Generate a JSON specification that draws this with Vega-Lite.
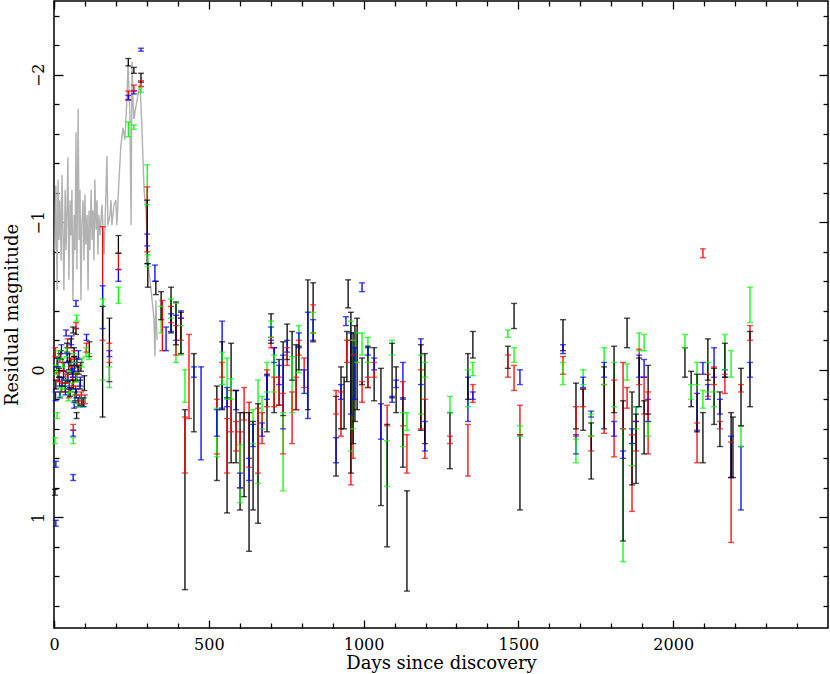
{
"$schema":"https://vega.github.io/schema/vega-lite/v6.json",
"autosize":{"type":"none"},
"width":774,"height":627,
"padding":{"left":54,"top":1,"right":2,"bottom":46},
"background":"white",
"config":{"view":{"stroke":"#000","strokeWidth":1.5},
"axis":{"labelFont":"DejaVu Serif","labelFontSize":16,"labelColor":"#000","titleFont":"DejaVu Serif","titleFontSize":18,"titleFontWeight":"normal","titleColor":"#000","tickColor":"#000","tickWidth":1.3,"grid":false,"domain":false,"labelFlush":false,"labelOverlap":false}},
"datasets":{
"gray":[
{"d":3,"m":-0.81},{"d":6,"m":-1.25},{"d":10,"m":-0.54},{"d":13,"m":-1.29},{"d":16,"m":-0.88},{"d":19,"m":-1.15},{"d":23,"m":-0.74},{"d":26,"m":-1.32},{"d":29,"m":-0.95},{"d":32,"m":-0.54},{"d":36,"m":-1.22},{"d":39,"m":-0.81},{"d":42,"m":-1.08},{"d":45,"m":-1.44},{"d":48,"m":-0.61},{"d":52,"m":-1.15},{"d":55,"m":-0.91},{"d":58,"m":-1.22},{"d":61,"m":-0.47},{"d":65,"m":-1.05},{"d":68,"m":-0.81},{"d":71,"m":-1.61},{"d":74,"m":-0.68},{"d":78,"m":-1.77},{"d":81,"m":-0.88},{"d":84,"m":-1.22},{"d":87,"m":-0.47},{"d":90,"m":-0.98},{"d":94,"m":-1.15},{"d":97,"m":-0.74},{"d":100,"m":-1.19},{"d":103,"m":-0.85},{"d":107,"m":-1.05},{"d":110,"m":-0.54},{"d":113,"m":-1.08},{"d":116,"m":-0.81},{"d":120,"m":-1.22},{"d":123,"m":-0.88},{"d":126,"m":-1.08},{"d":129,"m":-0.74},{"d":132,"m":-1.29},{"d":136,"m":-0.95},{"d":139,"m":-1.15},{"d":142,"m":-0.78},{"d":145,"m":-1.05},{"d":149,"m":-0.91},{"d":155,"m":-1.12},{"d":162,"m":-0.78},{"d":168,"m":-1.22},{"d":171,"m":-1.45},{"d":174,"m":-0.98},{"d":181,"m":-1.05},{"d":184,"m":-1.15},{"d":187,"m":-0.98},{"d":194,"m":-1.12},{"d":200,"m":-1.15},{"d":203,"m":-0.98},{"d":210,"m":-1.29},{"d":216,"m":-1.52},{"d":223,"m":-1.64},{"d":229,"m":-1.56},{"d":236,"m":-1.86},{"d":239,"m":-2.07},{"d":245,"m":-1.73},{"d":249,"m":-0.98},{"d":252,"m":-2.09},{"d":255,"m":-1.83},{"d":258,"m":-1.7},{"d":265,"m":-1.79},{"d":271,"m":-1.86},{"d":278,"m":-1.94},{"d":284,"m":-1.63},{"d":291,"m":-1.22},{"d":297,"m":-1.08},{"d":304,"m":-0.71},{"d":310,"m":-0.61},{"d":317,"m":-0.47},{"d":323,"m":-0.34},{"d":326,"m":-0.09},{"d":329,"m":-0.47},{"d":333,"m":-0.2}
],
"bars":[
{"d":10,"lo":-0.08,"hi":-0.02,"b":"k"},{"d":16,"lo":-0.01,"hi":0.05,"b":"k"},{"d":22,"lo":-0.13,"hi":-0.07,"b":"k"},{"d":26,"lo":0.05,"hi":0.11,"b":"k"},{"d":32,"lo":-0.05,"hi":0.01,"b":"k"},{"d":36,"lo":0.09,"hi":0.15,"b":"k"},{"d":42,"lo":-0.18,"hi":-0.12,"b":"k"},{"d":45,"lo":0.02,"hi":0.08,"b":"k"},{"d":50,"lo":-0.11,"hi":-0.05,"b":"k"},{"d":52,"lo":0.12,"hi":0.18,"b":"k"},{"d":55,"lo":-0.21,"hi":-0.15,"b":"k"},{"d":58,"lo":-0.03,"hi":0.03,"b":"k"},{"d":62,"lo":0.07,"hi":0.13,"b":"k"},{"d":65,"lo":-0.15,"hi":-0.09,"b":"k"},{"d":68,"lo":0.15,"hi":0.21,"b":"k"},{"d":71,"lo":0.02,"hi":0.08,"b":"k"},{"d":74,"lo":-0.08,"hi":-0.02,"b":"k"},{"d":78,"lo":0.19,"hi":0.25,"b":"k"},{"d":84,"lo":0.07,"hi":0.13,"b":"k"},{"d":90,"lo":0.19,"hi":0.24,"b":"k"},{"d":98,"lo":0.04,"hi":0.14,"b":"k"},{"d":6,"lo":0.07,"hi":0.13,"b":"k"},{"d":62,"lo":-0.29,"hi":-0.25,"b":"k"},{"d":71,"lo":-0.28,"hi":-0.24,"b":"k"},{"d":73,"lo":0.29,"hi":0.33,"b":"k"},{"d":3,"lo":0.81,"hi":0.85,"b":"k"},{"d":114,"lo":-0.19,"hi":-0.09,"b":"k"},{"d":48,"lo":-0.06,"hi":0.0,"b":"k"},{"d":60,"lo":0.01,"hi":0.07,"b":"k"},{"d":66,"lo":-0.09,"hi":-0.03,"b":"k"},{"d":80,"lo":-0.03,"hi":0.03,"b":"k"},{"d":87,"lo":-0.05,"hi":0.01,"b":"k"},
{"d":4,"lo":-0.15,"hi":-0.09,"b":"r"},{"d":13,"lo":0.02,"hi":0.08,"b":"r"},{"d":19,"lo":-0.11,"hi":-0.05,"b":"r"},{"d":25,"lo":0.09,"hi":0.15,"b":"r"},{"d":30,"lo":-0.05,"hi":0.01,"b":"r"},{"d":38,"lo":0.03,"hi":0.09,"b":"r"},{"d":44,"lo":-0.21,"hi":-0.15,"b":"r"},{"d":48,"lo":0.13,"hi":0.19,"b":"r"},{"d":54,"lo":-0.08,"hi":-0.02,"b":"r"},{"d":60,"lo":0.05,"hi":0.11,"b":"r"},{"d":64,"lo":-0.13,"hi":-0.07,"b":"r"},{"d":70,"lo":0.11,"hi":0.17,"b":"r"},{"d":76,"lo":-0.03,"hi":0.03,"b":"r"},{"d":82,"lo":0.17,"hi":0.23,"b":"r"},{"d":88,"lo":0.15,"hi":0.21,"b":"r"},{"d":100,"lo":0.17,"hi":0.23,"b":"r"},{"d":105,"lo":-0.18,"hi":-0.12,"b":"r"},{"d":71,"lo":-0.32,"hi":-0.28,"b":"r"},{"d":62,"lo":0.37,"hi":0.41,"b":"r"},
{"d":8,"lo":-0.03,"hi":0.03,"b":"g"},{"d":15,"lo":-0.13,"hi":-0.07,"b":"g"},{"d":21,"lo":0.12,"hi":0.18,"b":"g"},{"d":28,"lo":-0.08,"hi":-0.02,"b":"g"},{"d":34,"lo":0.07,"hi":0.13,"b":"g"},{"d":40,"lo":-0.15,"hi":-0.09,"b":"g"},{"d":46,"lo":0.15,"hi":0.21,"b":"g"},{"d":51,"lo":-0.05,"hi":0.01,"b":"g"},{"d":57,"lo":0.09,"hi":0.15,"b":"g"},{"d":63,"lo":-0.11,"hi":-0.05,"b":"g"},{"d":69,"lo":0.17,"hi":0.23,"b":"g"},{"d":75,"lo":0.02,"hi":0.08,"b":"g"},{"d":83,"lo":0.19,"hi":0.25,"b":"g"},{"d":90,"lo":-0.08,"hi":-0.02,"b":"g"},{"d":103,"lo":-0.15,"hi":-0.09,"b":"g"},{"d":113,"lo":-0.11,"hi":-0.07,"b":"g"},{"d":73,"lo":-0.37,"hi":-0.33,"b":"g"},{"d":10,"lo":0.29,"hi":0.33,"b":"g"},{"d":3,"lo":0.46,"hi":0.5,"b":"g"},{"d":62,"lo":0.46,"hi":0.5,"b":"g"},{"d":96,"lo":0.19,"hi":0.25,"b":"g"},
{"d":5,"lo":0.15,"hi":0.21,"b":"b"},{"d":12,"lo":-0.08,"hi":-0.02,"b":"b"},{"d":18,"lo":0.05,"hi":0.11,"b":"b"},{"d":24,"lo":-0.17,"hi":-0.11,"b":"b"},{"d":31,"lo":0.01,"hi":0.07,"b":"b"},{"d":37,"lo":0.11,"hi":0.17,"b":"b"},{"d":43,"lo":-0.11,"hi":-0.05,"b":"b"},{"d":49,"lo":0.07,"hi":0.13,"b":"b"},{"d":56,"lo":-0.23,"hi":-0.17,"b":"b"},{"d":61,"lo":-0.01,"hi":0.05,"b":"b"},{"d":66,"lo":-0.05,"hi":0.01,"b":"b"},{"d":72,"lo":0.13,"hi":0.19,"b":"b"},{"d":79,"lo":-0.13,"hi":-0.07,"b":"b"},{"d":85,"lo":0.05,"hi":0.11,"b":"b"},{"d":95,"lo":0.19,"hi":0.25,"b":"b"},{"d":105,"lo":-0.24,"hi":-0.2,"b":"b"},{"d":19,"lo":0.15,"hi":0.19,"b":"b"},{"d":71,"lo":-0.47,"hi":-0.43,"b":"b"},{"d":39,"lo":-0.27,"hi":-0.23,"b":"b"},{"d":65,"lo":0.22,"hi":0.26,"b":"b"},{"d":62,"lo":0.41,"hi":0.45,"b":"b"},{"d":6,"lo":0.62,"hi":0.66,"b":"b"},{"d":62,"lo":0.71,"hi":0.75,"b":"b"},{"d":6,"lo":1.02,"hi":1.06,"b":"b"},
{"d":157,"lo":-0.97,"hi":-0.2,"b":"r"},{"d":157,"lo":-0.57,"hi":-0.28,"b":"b"},{"d":157,"lo":-0.48,"hi":0.07,"b":"g"},{"d":157,"lo":-0.43,"hi":0.32,"b":"k"},
{"d":179,"lo":-0.35,"hi":0.08,"b":"k"},{"d":179,"lo":-0.18,"hi":-0.05,"b":"r"},{"d":179,"lo":-0.13,"hi":-0.09,"b":"b"},{"d":179,"lo":-0.02,"hi":0.12,"b":"g"},
{"d":208,"lo":-0.91,"hi":-0.79,"b":"k"},{"d":208,"lo":-0.79,"hi":-0.68,"b":"r"},{"d":208,"lo":-0.68,"hi":-0.6,"b":"b"},{"d":208,"lo":-0.56,"hi":-0.45,"b":"g"},
{"d":240,"lo":-2.11,"hi":-2.06,"b":"k"},{"d":240,"lo":-1.89,"hi":-1.83,"b":"r"},{"d":240,"lo":-1.86,"hi":-1.83,"b":"b"},{"d":240,"lo":-1.68,"hi":-1.58,"b":"g"},
{"d":258,"lo":-2.05,"hi":-2.01,"b":"k"},{"d":258,"lo":-1.93,"hi":-1.89,"b":"r"},{"d":258,"lo":-1.89,"hi":-1.87,"b":"b"},{"d":258,"lo":-1.66,"hi":-1.63,"b":"g"},
{"d":281,"lo":-2.18,"hi":-2.16,"b":"b"},{"d":281,"lo":-2.01,"hi":-1.95,"b":"k"},{"d":281,"lo":-1.96,"hi":-1.92,"b":"r"},{"d":281,"lo":-1.92,"hi":-1.88,"b":"g"},
{"d":301,"lo":-1.39,"hi":-1.12,"b":"g"},{"d":301,"lo":-1.24,"hi":-0.8,"b":"r"},{"d":301,"lo":-1.15,"hi":-0.72,"b":"k"},{"d":301,"lo":-0.92,"hi":-0.84,"b":"b"},{"d":303,"lo":-0.78,"hi":-0.7,"b":"g"},{"d":303,"lo":-0.72,"hi":-0.56,"b":"k"},
{"d":326,"lo":-0.71,"hi":-0.6,"b":"b"},{"d":329,"lo":-0.6,"hi":-0.51,"b":"k"},
{"d":346,"lo":-0.43,"hi":-0.25,"b":"g"},{"d":346,"lo":-0.53,"hi":-0.34,"b":"k"},{"d":350,"lo":-0.47,"hi":-0.13,"b":"r"},{"d":362,"lo":-0.29,"hi":-0.13,"b":"b"},
{"d":378,"lo":-0.48,"hi":-0.35,"b":"g"},{"d":378,"lo":-0.43,"hi":-0.32,"b":"r"},{"d":378,"lo":-0.38,"hi":-0.26,"b":"b"},{"d":378,"lo":-0.56,"hi":-0.25,"b":"k"},
{"d":394,"lo":-0.45,"hi":-0.05,"b":"g"},{"d":394,"lo":-0.37,"hi":-0.2,"b":"b"},{"d":394,"lo":-0.3,"hi":-0.1,"b":"r"},{"d":394,"lo":-0.46,"hi":-0.17,"b":"k"},
{"d":410,"lo":-0.3,"hi":-0.1,"b":"g"},{"d":410,"lo":-0.4,"hi":-0.35,"b":"b"},{"d":410,"lo":-0.35,"hi":-0.2,"b":"r"},{"d":410,"lo":-0.39,"hi":-0.11,"b":"k"},
{"d":423,"lo":0.0,"hi":0.22,"b":"g"},{"d":423,"lo":0.27,"hi":1.49,"b":"k"},{"d":423,"lo":0.32,"hi":0.7,"b":"r"},
{"d":436,"lo":-0.24,"hi":0.33,"b":"r"},{"d":452,"lo":-0.11,"hi":0.42,"b":"k"},{"d":452,"lo":-0.02,"hi":0.05,"b":"b"},{"d":475,"lo":-0.02,"hi":0.61,"b":"b"},
{"d":526,"lo":0.11,"hi":0.75,"b":"k"},{"d":526,"lo":0.2,"hi":0.57,"b":"r"},{"d":526,"lo":0.26,"hi":0.59,"b":"g"},{"d":526,"lo":0.27,"hi":0.45,"b":"b"},
{"d":543,"lo":-0.33,"hi":0.26,"b":"b"},{"d":543,"lo":-0.19,"hi":0.27,"b":"k"},{"d":543,"lo":-0.12,"hi":0.1,"b":"g"},{"d":543,"lo":-0.05,"hi":0.05,"b":"r"},
{"d":559,"lo":0.19,"hi":0.97,"b":"k"},{"d":559,"lo":0.33,"hi":0.7,"b":"r"},{"d":559,"lo":-0.08,"hi":0.2,"b":"g"},{"d":559,"lo":0.12,"hi":0.25,"b":"b"},
{"d":572,"lo":-0.18,"hi":0.63,"b":"k"},{"d":572,"lo":0.14,"hi":0.42,"b":"r"},{"d":572,"lo":0.06,"hi":0.2,"b":"g"},
{"d":588,"lo":0.14,"hi":0.27,"b":"b"},{"d":588,"lo":0.14,"hi":0.63,"b":"k"},{"d":588,"lo":0.35,"hi":0.55,"b":"r"},
{"d":601,"lo":0.29,"hi":0.95,"b":"k"},{"d":601,"lo":0.42,"hi":0.8,"b":"r"},{"d":601,"lo":0.51,"hi":0.9,"b":"g"},{"d":601,"lo":0.7,"hi":0.8,"b":"b"},
{"d":614,"lo":0.12,"hi":0.34,"b":"r"},{"d":614,"lo":0.29,"hi":0.86,"b":"k"},
{"d":630,"lo":0.22,"hi":0.66,"b":"r"},{"d":630,"lo":0.29,"hi":1.23,"b":"k"},{"d":630,"lo":0.6,"hi":0.75,"b":"b"},
{"d":643,"lo":0.27,"hi":0.5,"b":"g"},{"d":643,"lo":0.35,"hi":0.95,"b":"k"},{"d":643,"lo":0.37,"hi":0.52,"b":"b"},
{"d":659,"lo":0.07,"hi":0.77,"b":"g"},{"d":659,"lo":0.23,"hi":1.04,"b":"k"},{"d":659,"lo":0.26,"hi":0.7,"b":"r"},
{"d":672,"lo":0.18,"hi":0.4,"b":"g"},{"d":672,"lo":0.29,"hi":0.5,"b":"r"},{"d":672,"lo":0.36,"hi":0.45,"b":"b"},
{"d":688,"lo":-0.05,"hi":0.15,"b":"g"},{"d":688,"lo":0.0,"hi":0.25,"b":"r"},{"d":688,"lo":0.03,"hi":0.42,"b":"k"},{"d":688,"lo":0.04,"hi":0.2,"b":"b"},
{"d":701,"lo":-0.38,"hi":-0.18,"b":"k"},{"d":701,"lo":-0.33,"hi":-0.22,"b":"g"},{"d":701,"lo":-0.29,"hi":-0.2,"b":"b"},{"d":701,"lo":-0.22,"hi":-0.15,"b":"r"},
{"d":711,"lo":-0.15,"hi":0.29,"b":"k"},{"d":711,"lo":-0.15,"hi":-0.05,"b":"b"},{"d":711,"lo":-0.1,"hi":0.15,"b":"g"},{"d":711,"lo":0.05,"hi":0.25,"b":"r"},
{"d":727,"lo":-0.07,"hi":0.24,"b":"k"},{"d":727,"lo":-0.03,"hi":0.1,"b":"b"},{"d":727,"lo":0.05,"hi":0.24,"b":"r"},
{"d":740,"lo":-0.19,"hi":0.31,"b":"k"},{"d":740,"lo":-0.1,"hi":0.4,"b":"b"},{"d":740,"lo":0.16,"hi":0.57,"b":"r"},{"d":740,"lo":0.29,"hi":0.82,"b":"g"},
{"d":753,"lo":-0.31,"hi":-0.07,"b":"k"},{"d":753,"lo":-0.15,"hi":-0.03,"b":"r"},{"d":753,"lo":-0.2,"hi":-0.12,"b":"b"},
{"d":769,"lo":-0.26,"hi":0.07,"b":"k"},{"d":769,"lo":-0.09,"hi":0.29,"b":"g"},{"d":769,"lo":0.15,"hi":0.5,"b":"r"},
{"d":782,"lo":-0.17,"hi":0.27,"b":"k"},{"d":782,"lo":0.05,"hi":0.27,"b":"r"},
{"d":791,"lo":-0.3,"hi":0.02,"b":"g"},{"d":791,"lo":-0.25,"hi":-0.15,"b":"b"},{"d":791,"lo":-0.2,"hi":-0.1,"b":"r"},{"d":791,"lo":-0.16,"hi":0.0,"b":"k"},
{"d":808,"lo":-0.08,"hi":0.12,"b":"r"},{"d":808,"lo":0.0,"hi":0.16,"b":"b"},
{"d":820,"lo":-0.61,"hi":0.27,"b":"k"},{"d":820,"lo":-0.39,"hi":0.33,"b":"b"},
{"d":837,"lo":-0.59,"hi":-0.19,"b":"k"},{"d":837,"lo":-0.44,"hi":-0.25,"b":"r"},{"d":837,"lo":-0.39,"hi":-0.25,"b":"g"},{"d":837,"lo":-0.34,"hi":-0.2,"b":"b"},
{"d":911,"lo":0.18,"hi":0.72,"b":"k"},{"d":911,"lo":0.14,"hi":0.3,"b":"r"},{"d":911,"lo":0.46,"hi":0.63,"b":"b"},
{"d":927,"lo":-0.02,"hi":0.4,"b":"k"},{"d":927,"lo":0.15,"hi":0.45,"b":"r"},{"d":927,"lo":0.1,"hi":0.2,"b":"b"},
{"d":937,"lo":0.05,"hi":0.4,"b":"k"},{"d":943,"lo":-0.36,"hi":-0.3,"b":"b"},
{"d":946,"lo":-0.26,"hi":0.08,"b":"k"},{"d":946,"lo":-0.2,"hi":-0.05,"b":"r"},{"d":950,"lo":-0.61,"hi":-0.42,"b":"k"},
{"d":959,"lo":-0.33,"hi":0.55,"b":"g"},{"d":959,"lo":-0.2,"hi":0.78,"b":"r"},{"d":959,"lo":-0.25,"hi":0.3,"b":"b"},{"d":959,"lo":-0.39,"hi":0.7,"b":"k"},
{"d":966,"lo":-0.1,"hi":0.6,"b":"r"},{"d":966,"lo":-0.2,"hi":0.4,"b":"g"},{"d":966,"lo":-0.25,"hi":0.5,"b":"k"},
{"d":972,"lo":-0.3,"hi":0.35,"b":"k"},{"d":972,"lo":-0.15,"hi":0.2,"b":"b"},
{"d":979,"lo":-0.25,"hi":-0.05,"b":"g"},{"d":979,"lo":-0.35,"hi":0.27,"b":"k"},
{"d":995,"lo":-0.59,"hi":-0.53,"b":"b"},{"d":995,"lo":0.08,"hi":0.22,"b":"r"},{"d":995,"lo":-0.25,"hi":-0.1,"b":"g"},{"d":995,"lo":-0.08,"hi":0.1,"b":"k"},
{"d":1014,"lo":-0.22,"hi":-0.05,"b":"g"},{"d":1014,"lo":-0.16,"hi":0.12,"b":"k"},{"d":1014,"lo":-0.15,"hi":-0.1,"b":"b"},{"d":1014,"lo":0.05,"hi":0.12,"b":"r"},
{"d":1034,"lo":-0.15,"hi":0.21,"b":"k"},{"d":1034,"lo":-0.05,"hi":0.05,"b":"r"},{"d":1034,"lo":-0.08,"hi":0.0,"b":"b"},
{"d":1056,"lo":-0.01,"hi":0.92,"b":"k"},{"d":1056,"lo":0.23,"hi":0.47,"b":"b"},
{"d":1076,"lo":0.24,"hi":0.38,"b":"r"},{"d":1076,"lo":0.48,"hi":0.79,"b":"g"},{"d":1076,"lo":0.37,"hi":1.2,"b":"k"},
{"d":1092,"lo":-0.2,"hi":-0.1,"b":"g"},{"d":1092,"lo":-0.18,"hi":0.19,"b":"k"},{"d":1092,"lo":0.18,"hi":0.22,"b":"b"},
{"d":1105,"lo":-0.02,"hi":0.29,"b":"k"},{"d":1105,"lo":0.07,"hi":0.12,"b":"b"},
{"d":1127,"lo":-0.05,"hi":0.2,"b":"b"},{"d":1127,"lo":0.08,"hi":0.38,"b":"r"},{"d":1127,"lo":0.29,"hi":0.52,"b":"g"},{"d":1127,"lo":0.19,"hi":0.66,"b":"k"},
{"d":1140,"lo":0.29,"hi":0.41,"b":"g"},{"d":1140,"lo":0.44,"hi":0.7,"b":"r"},{"d":1140,"lo":0.82,"hi":1.5,"b":"k"},
{"d":1185,"lo":-0.21,"hi":0.1,"b":"b"},{"d":1185,"lo":0.0,"hi":0.4,"b":"r"},{"d":1185,"lo":-0.1,"hi":0.3,"b":"g"},{"d":1185,"lo":-0.17,"hi":0.41,"b":"k"},
{"d":1198,"lo":0.2,"hi":0.6,"b":"r"},{"d":1198,"lo":0.35,"hi":0.55,"b":"b"},{"d":1198,"lo":-0.05,"hi":0.05,"b":"g"},{"d":1198,"lo":-0.11,"hi":0.5,"b":"k"},
{"d":1279,"lo":0.18,"hi":0.29,"b":"g"},{"d":1279,"lo":0.29,"hi":0.67,"b":"k"},{"d":1279,"lo":0.45,"hi":0.5,"b":"r"},
{"d":1337,"lo":0.0,"hi":0.25,"b":"g"},{"d":1337,"lo":0.05,"hi":0.35,"b":"b"},{"d":1337,"lo":0.37,"hi":0.72,"b":"r"},{"d":1337,"lo":-0.11,"hi":0.2,"b":"k"},
{"d":1353,"lo":-0.26,"hi":-0.08,"b":"k"},{"d":1353,"lo":-0.05,"hi":0.04,"b":"g"},{"d":1353,"lo":0.1,"hi":0.22,"b":"r"},{"d":1353,"lo":0.15,"hi":0.2,"b":"b"},
{"d":1466,"lo":-0.27,"hi":-0.22,"b":"g"},{"d":1466,"lo":-0.16,"hi":-0.01,"b":"k"},{"d":1466,"lo":-0.1,"hi":0.05,"b":"r"},
{"d":1486,"lo":-0.45,"hi":-0.28,"b":"k"},{"d":1486,"lo":-0.15,"hi":-0.05,"b":"g"},{"d":1486,"lo":-0.03,"hi":0.14,"b":"r"},
{"d":1505,"lo":0.0,"hi":0.1,"b":"b"},{"d":1505,"lo":0.24,"hi":0.44,"b":"r"},{"d":1505,"lo":0.38,"hi":0.45,"b":"g"},{"d":1505,"lo":0.44,"hi":0.95,"b":"k"},
{"d":1644,"lo":-0.34,"hi":-0.13,"b":"k"},{"d":1644,"lo":-0.17,"hi":-0.11,"b":"b"},{"d":1644,"lo":-0.09,"hi":0.03,"b":"r"},{"d":1644,"lo":-0.05,"hi":0.1,"b":"g"},
{"d":1686,"lo":0.09,"hi":0.4,"b":"k"},{"d":1686,"lo":0.25,"hi":0.45,"b":"r"},{"d":1686,"lo":0.44,"hi":0.57,"b":"b"},{"d":1686,"lo":0.47,"hi":0.63,"b":"g"},
{"d":1709,"lo":0.0,"hi":0.1,"b":"g"},{"d":1709,"lo":0.05,"hi":0.12,"b":"b"},{"d":1709,"lo":0.13,"hi":0.25,"b":"r"},{"d":1709,"lo":0.13,"hi":0.41,"b":"k"},
{"d":1735,"lo":0.28,"hi":0.32,"b":"b"},{"d":1735,"lo":0.3,"hi":0.45,"b":"g"},{"d":1735,"lo":0.45,"hi":0.55,"b":"r"},{"d":1735,"lo":0.36,"hi":0.74,"b":"k"},
{"d":1777,"lo":-0.15,"hi":0.1,"b":"g"},{"d":1777,"lo":-0.05,"hi":0.05,"b":"b"},{"d":1777,"lo":0.1,"hi":0.43,"b":"r"},{"d":1777,"lo":-0.02,"hi":0.4,"b":"k"},
{"d":1809,"lo":-0.05,"hi":0.25,"b":"g"},{"d":1809,"lo":0.07,"hi":0.59,"b":"r"},{"d":1809,"lo":0.35,"hi":0.45,"b":"b"},{"d":1809,"lo":-0.16,"hi":0.29,"b":"k"},
{"d":1838,"lo":-0.05,"hi":0.4,"b":"r"},{"d":1838,"lo":0.4,"hi":1.3,"b":"g"},{"d":1838,"lo":0.21,"hi":1.16,"b":"k"},{"d":1838,"lo":0.55,"hi":0.6,"b":"b"},
{"d":1851,"lo":-0.35,"hi":-0.15,"b":"k"},{"d":1851,"lo":-0.04,"hi":0.07,"b":"g"},{"d":1851,"lo":0.12,"hi":0.26,"b":"r"},
{"d":1867,"lo":0.44,"hi":0.96,"b":"r"},{"d":1867,"lo":0.4,"hi":0.5,"b":"b"},{"d":1867,"lo":0.5,"hi":0.65,"b":"g"},{"d":1867,"lo":0.15,"hi":0.78,"b":"k"},
{"d":1880,"lo":0.35,"hi":0.55,"b":"r"},{"d":1880,"lo":0.25,"hi":0.35,"b":"b"},{"d":1880,"lo":0.25,"hi":0.4,"b":"g"},{"d":1880,"lo":0.3,"hi":0.77,"b":"k"},
{"d":1890,"lo":-0.25,"hi":-0.13,"b":"g"},{"d":1890,"lo":-0.14,"hi":0.1,"b":"r"},{"d":1890,"lo":-0.1,"hi":0.05,"b":"b"},{"d":1890,"lo":-0.08,"hi":0.25,"b":"k"},
{"d":1906,"lo":-0.24,"hi":-0.13,"b":"g"},{"d":1906,"lo":-0.07,"hi":0.05,"b":"b"},{"d":1906,"lo":0.05,"hi":0.3,"b":"r"},{"d":1906,"lo":0.21,"hi":0.57,"b":"k"},
{"d":1919,"lo":-0.03,"hi":0.3,"b":"k"},{"d":1919,"lo":0.2,"hi":0.35,"b":"b"},{"d":1919,"lo":0.15,"hi":0.57,"b":"r"},{"d":1919,"lo":0.35,"hi":0.45,"b":"g"},
{"d":2038,"lo":-0.24,"hi":-0.15,"b":"g"},{"d":2038,"lo":-0.15,"hi":0.05,"b":"k"},
{"d":2058,"lo":0.01,"hi":0.25,"b":"k"},{"d":2058,"lo":0.1,"hi":0.2,"b":"g"},
{"d":2077,"lo":-0.05,"hi":0.1,"b":"g"},{"d":2077,"lo":0.16,"hi":0.41,"b":"b"},{"d":2077,"lo":0.36,"hi":0.63,"b":"r"},{"d":2077,"lo":0.03,"hi":0.42,"b":"k"},
{"d":2096,"lo":-0.82,"hi":-0.76,"b":"r"},{"d":2096,"lo":-0.05,"hi":0.03,"b":"b"},{"d":2096,"lo":0.14,"hi":0.26,"b":"g"},{"d":2096,"lo":0.29,"hi":0.63,"b":"k"},
{"d":2112,"lo":-0.05,"hi":0.15,"b":"g"},{"d":2112,"lo":0.03,"hi":0.18,"b":"r"},{"d":2112,"lo":0.1,"hi":0.2,"b":"b"},{"d":2112,"lo":-0.21,"hi":0.07,"b":"k"},
{"d":2132,"lo":-0.15,"hi":0.05,"b":"b"},{"d":2132,"lo":-0.02,"hi":0.1,"b":"r"},{"d":2132,"lo":0.15,"hi":0.25,"b":"g"},{"d":2132,"lo":-0.01,"hi":0.37,"b":"k"},
{"d":2151,"lo":0.35,"hi":0.4,"b":"r"},{"d":2151,"lo":0.2,"hi":0.3,"b":"b"},{"d":2151,"lo":0.15,"hi":0.52,"b":"k"},
{"d":2167,"lo":-0.24,"hi":0.0,"b":"g"},{"d":2167,"lo":0.0,"hi":0.05,"b":"b"},{"d":2167,"lo":0.03,"hi":0.16,"b":"r"},{"d":2167,"lo":-0.18,"hi":0.05,"b":"k"},
{"d":2187,"lo":-0.13,"hi":0.05,"b":"g"},{"d":2187,"lo":0.49,"hi":1.17,"b":"r"},{"d":2187,"lo":0.45,"hi":0.73,"b":"b"},{"d":2187,"lo":0.29,"hi":0.73,"b":"k"},{"d":2193,"lo":0.32,"hi":0.73,"b":"k"},
{"d":2219,"lo":0.1,"hi":0.15,"b":"r"},{"d":2219,"lo":0.38,"hi":0.52,"b":"g"},{"d":2219,"lo":0.52,"hi":0.95,"b":"b"},{"d":2219,"lo":-0.01,"hi":0.38,"b":"k"},
{"d":2248,"lo":-0.56,"hi":-0.32,"b":"g"},{"d":2248,"lo":-0.3,"hi":-0.2,"b":"r"},{"d":2248,"lo":-0.05,"hi":0.05,"b":"b"},{"d":2248,"lo":-0.26,"hi":0.25,"b":"k"}
]},
"resolve":{"axis":{"x":"independent","y":"independent"}},
"layer":[
{"data":{"name":"gray"},"mark":{"type":"line","color":"#b2b2b2","strokeWidth":1.4},
"encoding":{"x":{"field":"d","type":"quantitative","scale":{"domain":[0,2500],"nice":false,"zero":false},"axis":{"orient":"bottom","values":[0,100,200,300,400,600,700,800,900,1100,1200,1300,1400,1600,1700,1800,1900,2100,2200,2300,2400],"labels":false,"tickSize":-5,"title":null}},
"y":{"field":"m","type":"quantitative","scale":{"domain":[-2.5,1.75],"reverse":true,"nice":false,"zero":false},"axis":{"orient":"left","values":[-2.4,-2.2,-1.8,-1.6,-1.4,-1.2,-0.8,-0.6,-0.4,-0.2,0.2,0.4,0.6,0.8,1.2,1.4,1.6],"labels":false,"tickSize":-5,"title":null}}}},
{"data":{"name":"bars"},"mark":{"type":"rule","strokeWidth":1.3},
"encoding":{"x":{"field":"d","type":"quantitative","axis":{"orient":"bottom","values":[0,500,1000,1500,2000],"format":"d","tickSize":-8,"labelPadding":16,"title":"Days since discovery","titlePadding":2}},
"y":{"field":"lo","type":"quantitative","axis":{"orient":"left","values":[-2,-1,0,1],"tickSize":-9,"labelAngle":-90,"labelAlign":"center","labelBaseline":"alphabetic","labelPadding":20,"title":"Residual magnitude","titlePadding":9}},
"y2":{"field":"hi"},
"color":{"field":"b","type":"nominal","scale":{"domain":["k","r","g","b"],"range":["#000000","#ff0000","#00ff00","#0000ff"]},"legend":null}}},
{"data":{"name":"bars"},"mark":{"type":"tick","orient":"horizontal","size":6,"thickness":1.4},
"encoding":{"x":{"field":"d","type":"quantitative","axis":{"orient":"top","values":[0,500,1000,1500,2000],"labels":false,"tickSize":-8,"title":null}},
"y":{"field":"lo","type":"quantitative","axis":{"orient":"right","values":[-2,-1,0,1],"labels":false,"tickSize":-9,"title":null}},
"color":{"field":"b","type":"nominal","legend":null}}},
{"data":{"name":"bars"},"mark":{"type":"tick","orient":"horizontal","size":6,"thickness":1.4},
"encoding":{"x":{"field":"d","type":"quantitative","axis":{"orient":"top","values":[0,100,200,300,400,600,700,800,900,1100,1200,1300,1400,1600,1700,1800,1900,2100,2200,2300,2400],"labels":false,"tickSize":-5,"title":null}},
"y":{"field":"hi","type":"quantitative","axis":{"orient":"right","values":[-2.4,-2.2,-1.8,-1.6,-1.4,-1.2,-0.8,-0.6,-0.4,-0.2,0.2,0.4,0.6,0.8,1.2,1.4,1.6],"labels":false,"tickSize":-5,"title":null}},
"color":{"field":"b","type":"nominal","legend":null}}}
]
}
